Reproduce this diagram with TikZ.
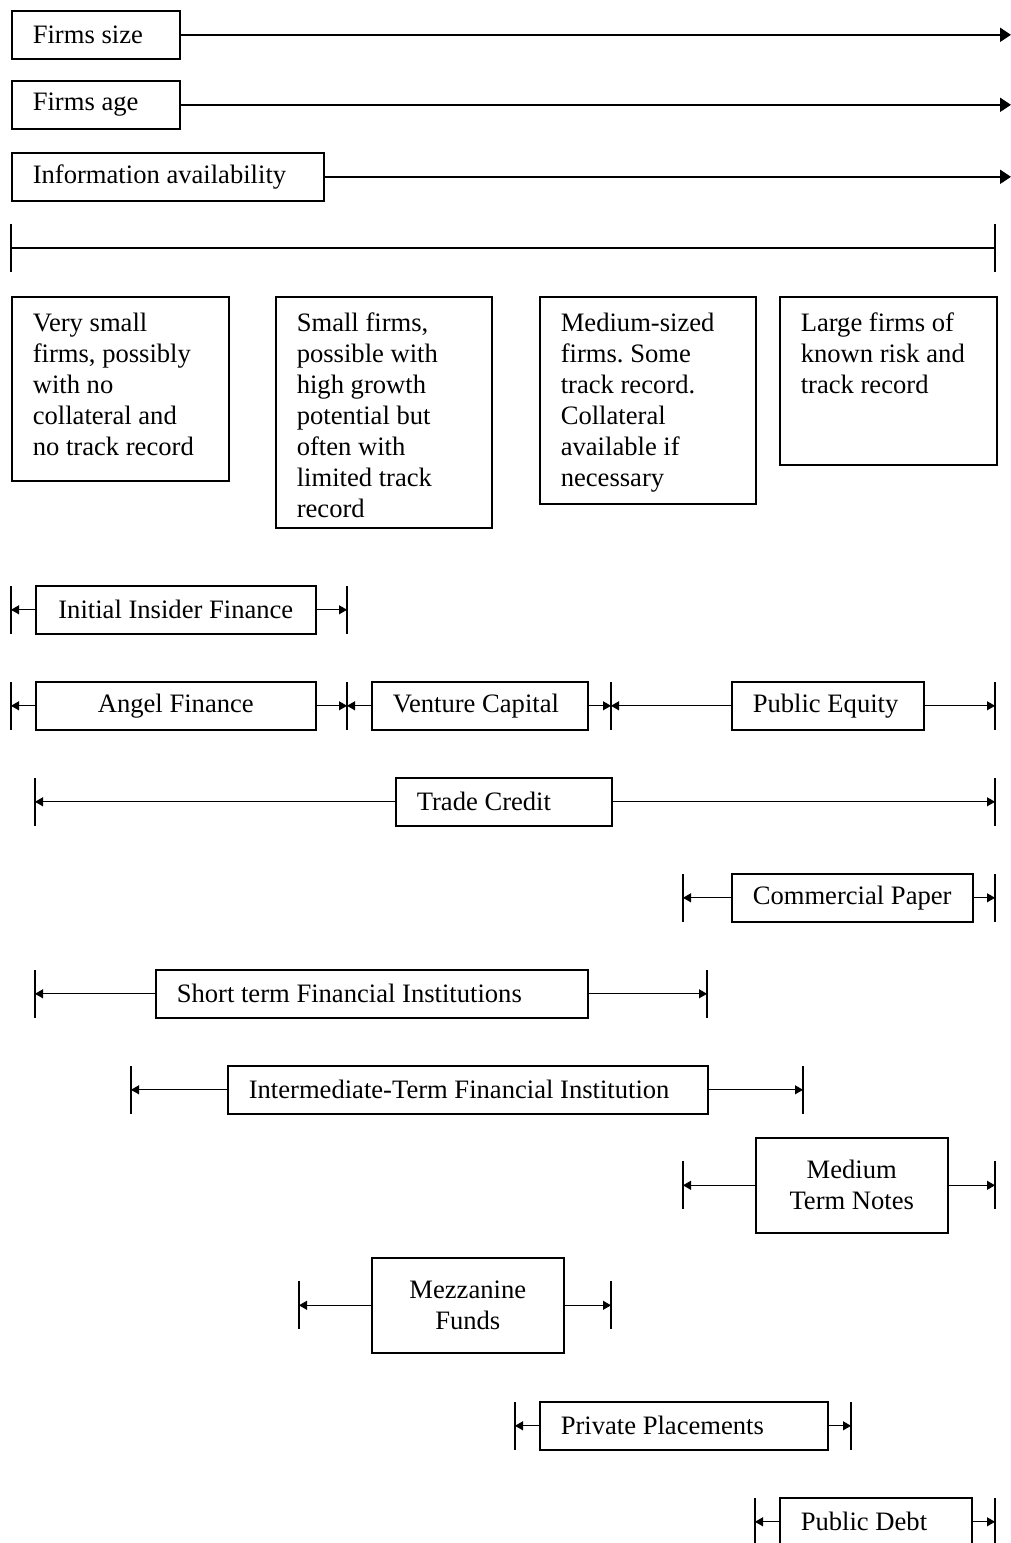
\documentclass[tikz,border=0pt]{standalone}
\usepackage{fontspec}
\setmainfont{Liberation Serif}
\usetikzlibrary{arrows.meta,positioning}

\begin{document}
\begin{tikzpicture}[x=0.5pt,y=-0.5pt, >={Triangle[length=4pt,width=4.5pt]},
  every node/.style={font=\fontsize{13.3}{15.5}\selectfont\frenchspacing,execute at begin node={\spaceskip=0pt\xspaceskip=0pt}},
  lbl/.style={draw,line width=0.8pt,anchor=north west,minimum height=24pt,inner xsep=10.5pt,inner ysep=0pt,align=left},
  cat/.style={draw,line width=0.8pt,anchor=north west,inner xsep=10.5pt,inner ysep=8pt},
  barc/.style={draw,line width=0.8pt,anchor=north west,minimum height=24pt,inner sep=0pt,align=center},
  barl/.style={draw,line width=0.8pt,anchor=north west,minimum height=24pt,inner xsep=10.5pt,inner ysep=0pt,align=left},
  trend/.style={line width=1pt,-{Triangle[length=5.5pt,width=7pt]}},
  span/.style={line width=0.5pt,->},
  tick/.style={line width=0.8pt}]
\useasboundingbox (0,0) rectangle (1011,1543);

\node[lbl,text width=63pt] (size) at (11,10) {Firms size};
\node[lbl,text width=63pt] (age) at (11,80) {Firms age};
\node[lbl,text width=135pt] (info) at (11,152) {Information availability};
\foreach \n in {size,age,info}{
  \coordinate (\n-end) at (1011,0 |- \n);
  \draw[trend] (\n.east) -- (\n-end);
}

\coordinate (scl) at (11,248);
\coordinate (scr) at (995,248);
\draw[tick] (scl) -- (scr);
\draw[tick] (scl) ++(0,-24) -- ++(0,48);
\draw[tick] (scr) ++(0,-24) -- ++(0,48);

\node[cat] (c1) at (11,296) {\parbox[c][76pt][t]{87.5pt}{\raggedright Very small\\firms, possibly\\with no\\collateral and\\no track record}};
\node[cat] (c2) at (275,296) {\parbox[c][99.5pt][t]{87pt}{\raggedright Small firms,\\possible with\\high growth\\potential but\\often with\\limited track\\record}};
\node[cat] (c3) at (539,296) {\parbox[c][87.5pt][t]{87pt}{\raggedright Medium-sized\\firms. Some\\track record.\\Collateral\\available if\\necessary}};
\node[cat] (c4) at (779,296) {\parbox[c][68pt][t]{87.5pt}{\raggedright Large firms of\\known risk and\\track record}};

\node[barc,minimum width=140pt] (iif) at (35,585) {Initial Insider Finance};
\node[barc,minimum width=140pt] (angel) at (35,681) {Angel Finance};
\node[barl,text width=87pt] (vc) at (371,681) {Venture Capital};
\node[barl,text width=75pt] (pe) at (731,681) {Public Equity};
\node[barl,text width=87pt] (tc) at (395,777) {Trade Credit};
\node[barl,text width=99.5pt] (cp) at (731,873) {Commercial Paper};
\node[barl,text width=195pt] (stfi) at (155,969) {Short term Financial Institutions};
\node[barl,text width=219pt] (itfi) at (227,1065) {Intermediate-Term Financial Institution};
\node[barc,minimum width=96pt,minimum height=47.5pt] (mtn) at (755,1137) {Medium\\Term Notes};
\node[barc,minimum width=96pt,minimum height=47.5pt] (mzf) at (371,1257) {Mezzanine\\Funds};
\node[barl,text width=123pt] (pp) at (539,1401) {Private Placements};
\node[barl,text width=75pt] (pd) at (779,1497) {Public Debt};

\foreach \n/\l/\r in {iif/11/347, angel/11/347, vc/347/611, pe/611/995, tc/35/995, cp/683/995,
  stfi/35/707, itfi/131/803, mtn/683/995, mzf/299/611, pp/515/851, pd/755/995}{
  \coordinate (\n-l) at (\l,0 |- \n);
  \coordinate (\n-r) at (\r,0 |- \n);
  \draw[tick] (\n-l) ++(0,-24) -- ++(0,48);
  \draw[tick] (\n-r) ++(0,-24) -- ++(0,48);
  \draw[span] (\n.west) -- (\n-l);
  \draw[span] (\n.east) -- (\n-r);
}
\end{tikzpicture}
\end{document}
